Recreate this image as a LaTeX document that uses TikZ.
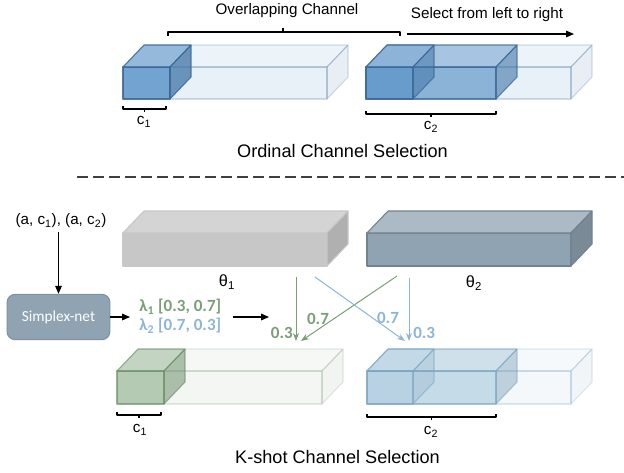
\documentclass[tikz,border=0pt]{standalone}
\usepackage{fontspec}
\setmainfont{Liberation Sans}
\newfontfamily\carlitofont{Carlito}
\usetikzlibrary{arrows.meta}
\definecolor{tblue}{RGB}{75,137,195}
\definecolor{tedge}{RGB}{55,100,150}
\definecolor{gA}{RGB}{117,158,115}
\definecolor{gEdge}{RGB}{100,140,100}
\definecolor{bA}{RGB}{130,175,205}
\definecolor{bEdge}{RGB}{120,165,195}
\definecolor{txtG}{RGB}{122,158,120}
\definecolor{txtB}{RGB}{142,182,212}
\definecolor{simp}{RGB}{143,163,178}
\definecolor{simpE}{RGB}{125,147,163}
\newcommand\cub[9]{%
 \path[fill=#5,draw=#8,#9] (#1,#3) rectangle (#2,#4);
 \path[fill=#6,draw=#8,#9] (#1,#3) -- ({#1+21},{#3-22}) -- ({#2+21},{#3-22}) -- (#2,#3) -- cycle;
 \path[fill=#7,draw=#8,#9] (#2,#3) -- ({#2+21},{#3-22}) -- ({#2+21},{#4-22}) -- (#2,#4) -- cycle;
}
\newcommand\brk[3]{% x0 x1 y : ends up, tick down
 \draw[line width=0.9pt] (#1,{#3-3}) -- (#1,#3) -- (#2,#3) -- (#2,{#3-3});
 \draw[line width=0.9pt] ({(#1+#2)/2},#3) -- ({(#1+#2)/2},{#3+3});
}
\tikzset{
 lbl/.style={inner sep=0pt,font=\fontsize{11.4}{13}\selectfont},
 big/.style={inner sep=0pt,font=\fontsize{13.6}{16}\selectfont},
 blk/.style={draw=black,line width=0.8pt,-{Triangle[length=6pt,width=5pt]}},
 garr/.style={draw=txtG,line width=0.75pt,-{Stealth[length=6pt,width=4.5pt]}},
 barr/.style={draw=txtB,line width=0.75pt,-{Stealth[length=6pt,width=4.5pt]}},
 num/.style={inner sep=0pt,font=\carlitofont\bfseries\fontsize{12.8}{14}\selectfont},
}
\begin{document}
\begin{tikzpicture}[x=0.75pt,y=-0.75pt,line join=round]
\useasboundingbox (0,0) rectangle (624,472);
% ---------- top: ordinal
\cub{123}{327}{67}{99}{tblue}{tblue!80!white}{tblue!85!black}{tedge}{fill opacity=0.12,draw opacity=0.22,line width=0.8pt}
\cub{123}{170}{67}{99}{tblue}{tblue!75!white}{tblue!85!black}{tedge}{fill opacity=0.75,draw opacity=0.8,line width=0.8pt}
\cub{366}{571}{67}{99}{tblue}{tblue!80!white}{tblue!85!black}{tedge}{fill opacity=0.12,draw opacity=0.22,line width=0.8pt}
\cub{366}{496}{67}{99}{tblue}{tblue!75!white}{tblue!85!black}{tedge}{fill opacity=0.6,draw opacity=0.7,line width=0.8pt}
\cub{366}{413}{67}{99}{tblue}{tblue!75!white}{tblue!85!black}{tedge}{fill opacity=0.55,draw opacity=0.7,line width=0.8pt}
\brk{123}{166}{109}
\node[lbl] (c1t) at (144,122) {c\textsubscript{1}};
\brk{366}{496}{114}
\node[lbl] (c2t) at (431,127) {c\textsubscript{2}};
\draw[line width=0.9pt] (168,36) -- (168,32) -- (400,32) -- (400,36);
\draw[line width=0.9pt] (283,32) -- (283,28);
\node[lbl] (ovl) at (287,11) {Overlapping Channel};
\node[lbl] (sel) at (487,15) {Select from left to right};
\coordinate (sa) at (407,34);
\coordinate (sb) at (574,34);
\draw[blk] (sa) -- (sb);
\node[big] (ord) at (342.5,151) {Ordinal Channel Selection};
\draw[dash pattern=on 8pt off 4pt,line width=1.1pt,draw=black!75] (77,177) -- (624,177);
% ---------- bottom: k-shot
\cub{123}{327}{233}{266}{black!22}{black!17}{black!31}{black!22}{line width=0.8pt}
\cub{367}{571}{233}{266}{simp}{simp!75!white}{simp!85!black}{simp!80!black}{line width=0.8pt}
\node[lbl,font=\fontsize{12.2}{14}\selectfont] (t1) at (227,282) {θ\textsubscript{1}};
\node[lbl,font=\fontsize{12.2}{14}\selectfont] (t2) at (474,283) {θ\textsubscript{2}};
\node[lbl] (inp) at (61,221) {(a, c\textsubscript{1}), (a, c\textsubscript{2})};
\node[draw=simpE,fill=simp,rounded corners=6pt,minimum width=77pt,minimum height=34pt,line width=0.8pt,
  text=white,font=\carlitofont\fontsize{11.5}{13}\selectfont] (sn) at (58.5,317) {Simplex-net};
\draw[blk] (inp.south -| sn.north) ++(0,4) coordinate (ia) -- (sn.north);
\node[num,anchor=west,text=txtG] (l1) at (139,307) {λ\textsubscript{1} [0.3, 0.7]};
\node[num,anchor=west,text=txtB] (l2) at (139,326) {λ\textsubscript{2} [0.7, 0.3]};
\coordinate (la) at (130,317);
\draw[blk] (sn.east) -- (la);
\coordinate (ra) at (233,317);
\coordinate (rb) at (269,317);
\draw[blk] (ra) -- (rb);
\coordinate (g1a) at (296,277);
\coordinate (g1b) at (296,341);
\coordinate (g2a) at (397,276);
\coordinate (g2b) at (301,341);
\coordinate (b1a) at (315,277);
\coordinate (b1b) at (405,341);
\coordinate (b2a) at (409,278);
\coordinate (b2b) at (409,341);
\draw[garr] (g1a) -- (g1b);
\draw[garr] (g2a) -- (g2b);
\draw[barr] (b1a) -- (b1b);
\draw[barr] (b2a) -- (b2b);
\node[num,text=txtG,anchor=east] (n1) at (293,333) {0.3};
\node[num,text=txtG] (n2) at (318,319) {0.7};
\node[num,text=txtB] (n3) at (388,318) {0.7};
\node[num,text=txtB,anchor=west] (n4) at (413,333) {0.3};
% bottom boxes
\cub{117}{322}{371}{404}{gA}{gA!80!white}{gA!85!black}{gEdge}{fill opacity=0.09,draw opacity=0.18,line width=0.8pt}
\cub{117}{164}{371}{404}{gA}{gA!80!white}{gA!85!black}{gEdge}{fill opacity=0.5,draw opacity=0.6,line width=0.8pt}
\cub{367}{571}{371}{404}{bA}{bA!80!white}{bA!85!black}{bEdge}{fill opacity=0.09,draw opacity=0.25,line width=0.8pt}
\cub{367}{496}{371}{404}{bA}{bA!85!white}{bA!85!black}{bEdge}{fill opacity=0.4,draw opacity=0.55,line width=0.8pt}
\cub{367}{413}{371}{404}{bA}{bA!85!white}{bA!85!black}{bEdge}{fill opacity=0.2,draw opacity=0.55,line width=0.8pt}
\brk{117}{161}{415}
\node[lbl] (c1b) at (140,430) {c\textsubscript{1}};
\brk{367}{496}{417}
\node[lbl] (c2b) at (431,432) {c\textsubscript{2}};
\node[big] (ks) at (337.5,457) {K-shot Channel Selection};
\end{tikzpicture}
\end{document}
